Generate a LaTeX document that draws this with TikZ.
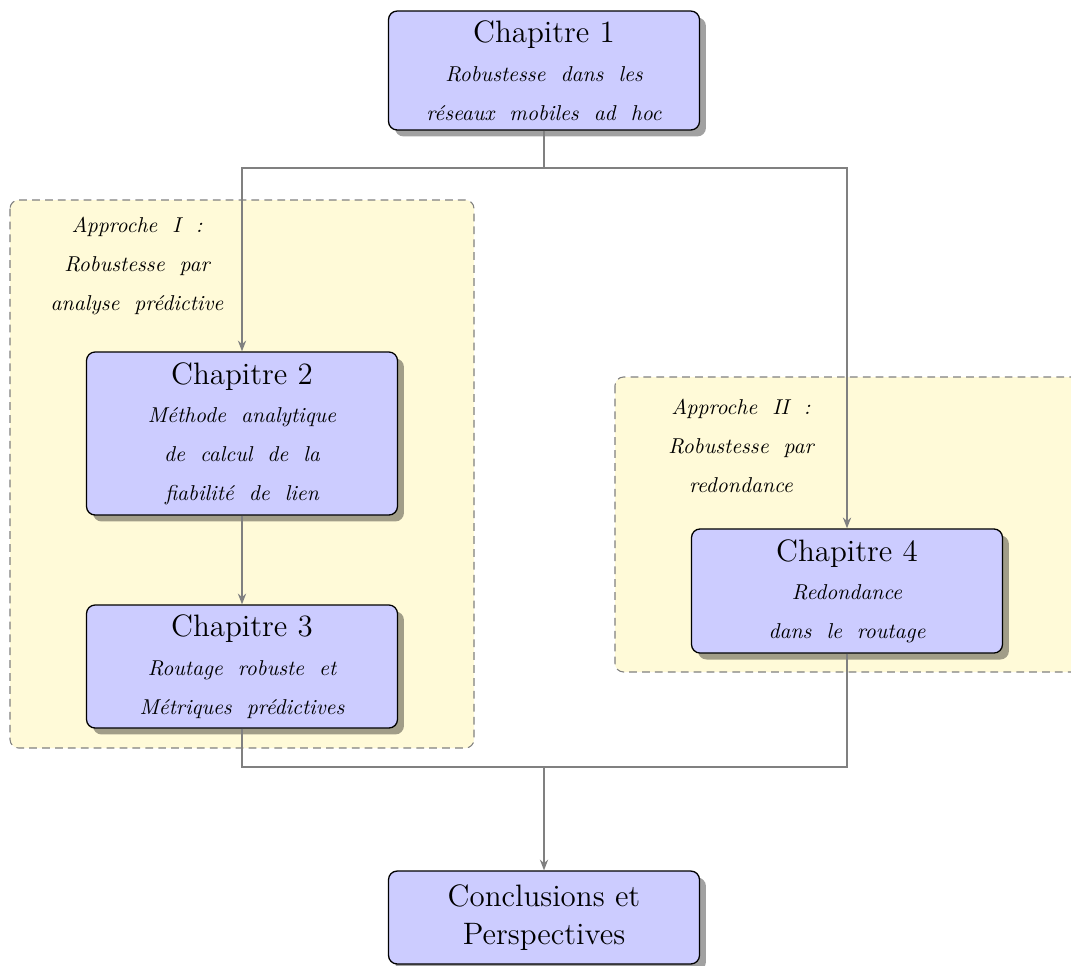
\documentclass[tikz,border=0pt]{standalone}
\usetikzlibrary{arrows.meta,shadows}
\definecolor{grpfill}{RGB}{255,250,216}
\definecolor{boxfill}{RGB}{204,204,255}
\newcommand\subtxt[1]{{\normalsize\itshape\spaceskip=.7em #1}}
\tikzset{
  chapbox/.style={draw=black, line width=0.6pt, fill=boxfill, rounded corners=4pt,
    minimum width=144.6pt, text width=140pt, align=center, font=\Large, inner sep=2pt,
    drop shadow={shadow xshift=3pt, shadow yshift=-3pt, fill=black, opacity=0.37}},
  grpbox/.style={draw=black!50, dash pattern=on 3.6pt off 2.4pt, line width=0.5pt,
    fill=grpfill, rounded corners=4pt},
  grplabel/.style={align=center, font=\normalsize\itshape, inner sep=0pt},
  conn/.style={draw=black!50, line width=0.9pt},
  connarrow/.style={conn, -{Stealth[length=5pt,width=3.8pt]}}
}
\begin{document}
\begin{tikzpicture}[x=0.465pt,y=-0.465pt]
\useasboundingbox (0,0) rectangle (1071,965);
% groups
\draw[grpbox] (10,200) rectangle (474,748);
\draw[grpbox] (615,377) rectangle (1090,672);
\node[grplabel] (lab1) at (137,266) {\subtxt{Approche I :}\\[6pt]\subtxt{Robustesse par}\\[6pt]\subtxt{analyse prédictive}};
\node[grplabel] (lab2) at (741,446) {\subtxt{Approche II :}\\[6pt]\subtxt{Robustesse par}\\[6pt]\subtxt{redondance}};
% boxes
\node[chapbox, minimum height=55.3pt] (ch1) at (544,70.5)
  {Chapitre 1\\\subtxt{Robustesse dans les}\\\subtxt{réseaux mobiles ad hoc}};
\node[chapbox, minimum height=75.8pt] (ch2) at (242,433.5)
  {Chapitre 2\\\subtxt{Méthode analytique}\\\subtxt{de calcul de la}\\\subtxt{fiabilité de lien}};
\node[chapbox, minimum height=57.2pt] (ch3) at (242,666.5)
  {Chapitre 3\\\subtxt{Routage robuste et}\\\subtxt{Métriques prédictives}};
\node[chapbox, minimum height=57.7pt] (ch4) at (847,591)
  {Chapitre 4\\\subtxt{Redondance}\\\subtxt{dans le routage}};
\node[chapbox, minimum height=43.2pt] (concl) at (544,917.5)
  {Conclusions et\\Perspectives};
% connectors
\coordinate (j1) at (544,168);
\coordinate (j2) at (544,767);
\draw[conn] (ch1.south) -- (j1);
\draw[connarrow] (j1) -| (ch2.north);
\draw[connarrow] (j1) -| (ch4.north);
\draw[connarrow] (ch2.south) -- (ch3.north);
\draw[conn] (ch3.south) |- (j2);
\draw[conn] (ch4.south) |- (j2);
\draw[connarrow] (j2) -- (concl.north);
\end{tikzpicture}
\end{document}
